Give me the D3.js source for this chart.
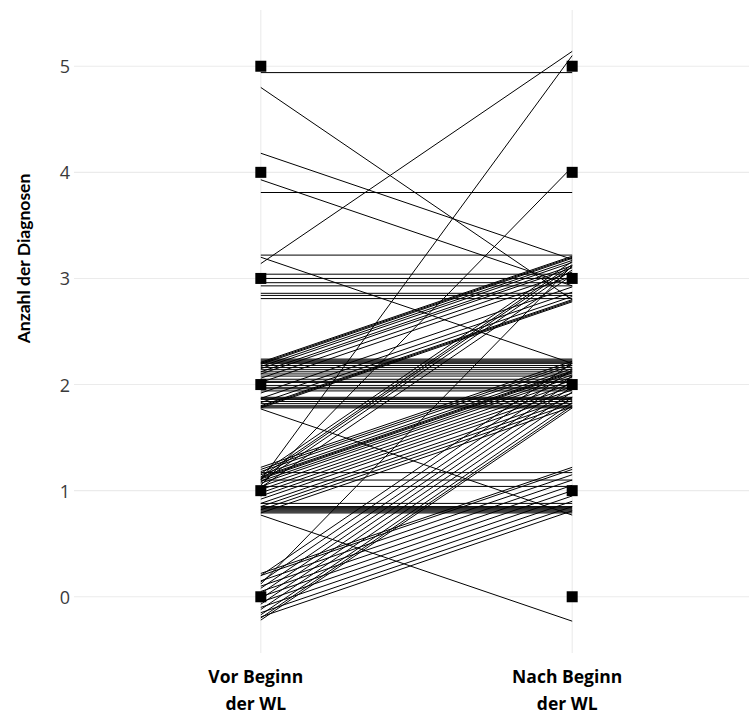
<!DOCTYPE html>
<html>
<head>
<meta charset="utf-8">
<script src="https://cdn.jsdelivr.net/npm/d3@7"></script>
<style>
  html, body { margin: 0; padding: 0; background: #fff; }
  svg { display: block; }
</style>
</head>
<body>
<svg id="chart" width="749" height="715"></svg>
<script>
// Time points on the x axis (two lines per label)
const timepoints = ["Vor Beginn|der WL", "Nach Beginn|der WL"];
// y axis ticks
const yTicks = [0, 1, 2, 3, 4, 5];
// Marker positions at each time point
const markerValues = [0, 1, 2, 3, 4, 5];

// Number of diagnoses before / after, one pair per transition group
const transitions = [
  [5, 5], [5, 3], [4, 3], [4, 4], [3, 5], [3, 3], [3, 2],
  [2, 3], [2, 2], [2, 1],
  [1, 5], [1, 4], [1, 3], [1, 2], [1, 1], [1, 0],
  [0, 1], [0, 2], [0, 3]
];
// Vertical jitter of each participant within a transition group
const jitterOffsets = [
  [-0.06],
  [-0.2],
  [0.18, -0.07],
  [-0.19],
  [0.14],
  [0.22, 0.04, 0.0, -0.04, -0.07, -0.14, -0.16, -0.19],
  [0.2],
  [0.21, 0.2, 0.19, 0.17, 0.15, 0.12, 0.1, 0.06, 0.02, -0.08, -0.13, -0.17, -0.2, -0.21, -0.22],
  [0.24, 0.23, 0.22, 0.21, 0.2, 0.18, 0.16, 0.14, 0.12, 0.1, 0.08, 0.05, 0.03, 0.02, -0.01, -0.03, -0.04, -0.06,
   -0.12, -0.13, -0.14, -0.16, -0.18, -0.2, -0.21, -0.22],
  [-0.23],
  [0.1],
  [0.05],
  [0.16, 0.13, 0.11, 0.08, 0.03],
  [0.22, 0.2, 0.18, 0.15, 0.13, 0.12, 0.11, 0.09, 0.07, 0.04, 0.01, -0.02, -0.05, -0.08, -0.12, -0.15, -0.18, -0.21],
  [0.17, 0.1, 0.04, -0.12, -0.15, -0.16, -0.17, -0.18, -0.19, -0.2, -0.21],
  [-0.23],
  [0.22, 0.2, 0.15, 0.1, 0.05, 0.0, -0.05, -0.1, -0.15, -0.19],
  [0.2, 0.14, 0.08, 0.03, -0.02, -0.07, -0.12, -0.17, -0.2, -0.22],
  [0.12]
];

// One record per participant
const participants = [];
transitions.forEach((t, i) => {
  jitterOffsets[i].forEach(j => {
    participants.push({ vor: t[0], nach: t[1], jitter: j });
  });
});

const svg = d3.select("#chart");
const panel = { left: 74, right: 759, top: 10, bottom: 653 };

const x = d3.scalePoint()
  .domain(timepoints)
  .range([panel.left, panel.right])
  .padding(0.6);

const y = d3.scaleLinear()
  .domain([-0.53, 5.53])
  .range([panel.bottom, panel.top]);

// Grid
const grid = svg.append("g");
grid.selectAll("line.h")
  .data(yTicks)
  .join("line")
  .attr("x1", panel.left).attr("x2", 749)
  .attr("y1", d => y(d)).attr("y2", d => y(d))
  .attr("stroke", "#ebebeb").attr("stroke-width", 1.1);
grid.selectAll("line.v")
  .data(timepoints)
  .join("line")
  .attr("x1", d => x(d)).attr("x2", d => x(d))
  .attr("y1", panel.top).attr("y2", panel.bottom)
  .attr("stroke", "#ebebeb").attr("stroke-width", 1.1);

// Participant lines
svg.append("g")
  .selectAll("line")
  .data(participants)
  .join("line")
  .attr("x1", x(timepoints[0]))
  .attr("x2", x(timepoints[1]))
  .attr("y1", d => y(d.vor + d.jitter))
  .attr("y2", d => y(d.nach + d.jitter))
  .attr("stroke", "#000")
  .attr("stroke-width", 1);

// Square markers
const size = 11;
const markers = [];
timepoints.forEach(t => markerValues.forEach(v => markers.push({ t, v })));
svg.append("g")
  .selectAll("rect")
  .data(markers)
  .join("rect")
  .attr("x", d => x(d.t) - size / 2)
  .attr("y", d => y(d.v) - size / 2)
  .attr("width", size).attr("height", size)
  .attr("fill", "#000");

// y axis tick labels
const yAxis = d3.axisLeft(y).tickValues(yTicks).tickFormat(d3.format("d")).tickSize(0).tickPadding(0);
svg.append("g")
  .attr("transform", `translate(${panel.left - 4},0)`)
  .call(yAxis)
  .call(g => g.select(".domain").remove())
  .call(g => g.selectAll("text")
    .attr("font-family", "'Open Sans', sans-serif")
    .attr("font-size", 18)
    .attr("fill", "#3a3a3a")
    .attr("dy", "0.36em"));

// x axis labels
const xLab = svg.append("g")
  .selectAll("text")
  .data(timepoints)
  .join("text")
  .attr("text-anchor", "middle")
  .attr("font-family", "'Open Sans', sans-serif")
  .attr("font-weight", "bold")
  .attr("font-size", 17.5)
  .attr("fill", "#000");
xLab.selectAll("tspan")
  .data(d => d.split("|").map(s => ({ s, d })))
  .join("tspan")
  .attr("x", d => x(d.d) - 5)
  .attr("y", (d, i) => 683 + i * 27)
  .text(d => d.s);

// y axis title
svg.append("text")
  .attr("transform", `translate(30,${(y(0) + y(5)) / 2 - 73}) rotate(-90)`)
  .attr("text-anchor", "middle")
  .attr("font-family", "Lato, sans-serif")
  .attr("font-weight", "bold")
  .attr("font-size", 17.5)
  .attr("fill", "#000")
  .text("Anzahl der Diagnosen");
</script>
</body>
</html>
